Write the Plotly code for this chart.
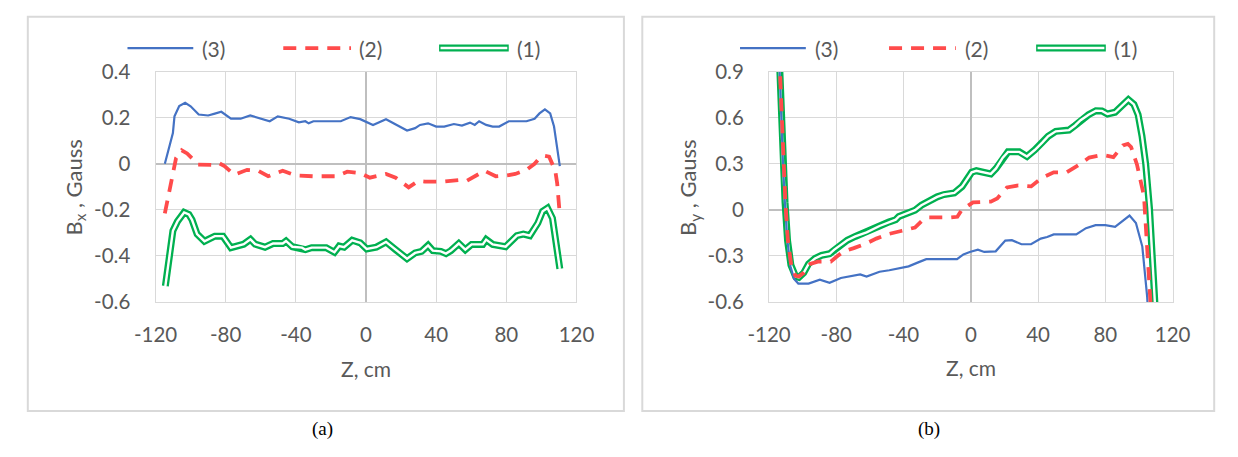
import plotly.graph_objects as go

# ---------------- data ----------------
# Panel (a): Bx
bx3_z = [-114.7, -110.1, -109.2, -106.5, -103.1, -100, -95.4, -90, -86.2, -82.5, -77, -71.5, -66, -60.4,
         -54.9, -50.3, -43.8, -38.3, -34.6, -32.7, -30, -20, -14.4, -8.8, -3.3, 4, 11.4, 23.4, 28, 30.8,
         35.4, 40, 44.6, 50.1, 54.7, 59.3, 62, 64.5, 68.5, 72.2, 75.9, 81.4, 91.5, 96.1, 98.9, 102, 105,
         107.2, 110.5]
bx3_v = [0, 0.134, 0.206, 0.251, 0.265, 0.25, 0.214, 0.21, 0.218, 0.226, 0.196, 0.196, 0.21, 0.196,
         0.185, 0.206, 0.196, 0.18, 0.185, 0.176, 0.185, 0.185, 0.185, 0.203, 0.194, 0.169, 0.194, 0.145,
         0.155, 0.169, 0.176, 0.162, 0.162, 0.173, 0.166, 0.179, 0.169, 0.185, 0.169, 0.162, 0.162, 0.185,
         0.185, 0.196, 0.219, 0.237, 0.219, 0.162, -0.01]

bx2_z = [-114.7, -111, -108.3, -105.1, -102, -98, -95.7, -87.9, -84, -80.7, -75.1, -67.8, -61.4, -55.8,
         -47.5, -40.2, -30, -17.1, -10.7, -3.3, 2.2, 11.4, 16.9, 24.3, 29.8, 33.5, 44.6, 53.8, 57.5, 67.6,
         74, 80.5, 85.1, 91.5, 96.1, 98.9, 101.5, 104.4, 107.9, 109, 110.5]
bx2_v = [-0.215, -0.085, 0.025, 0.059, 0.045, 0.015, -0.003, -0.005, 0.004, -0.01, -0.047, -0.026, -0.03,
         -0.054, -0.03, -0.05, -0.054, -0.054, -0.034, -0.04, -0.06, -0.044, -0.06, -0.102, -0.074, -0.077,
         -0.077, -0.07, -0.074, -0.03, -0.054, -0.05, -0.044, -0.026, 0, 0.025, 0.035, 0.031, -0.03,
         -0.085, -0.222]

bx1_z = [-114.4, -110.1, -107.5, -103.7, -101, -99.2, -96.3, -92.1, -86.2, -81.6, -77, -69.7, -65.9, -63.2,
         -57.6, -53, -47.5, -45.6, -42, -36.5, -34.6, -31, -22.7, -18, -15.3, -12.5, -7.9, -3.3, 0.4, 5.9,
         11.4, 16.9, 23.4, 28, 31.7, 35.4, 38.1, 42.7, 45.6, 48.4, 52.9, 56.6, 60.2, 66.6, 68.5, 72.2,
         79.6, 86, 89.7, 93.4, 98, 100.7, 103.5, 106.3, 108.6, 110.5]
bx1_v = [-0.531, -0.291, -0.25, -0.211, -0.22, -0.243, -0.305, -0.336, -0.314, -0.314, -0.364, -0.349,
         -0.328, -0.349, -0.362, -0.346, -0.346, -0.335, -0.36, -0.364, -0.373, -0.364, -0.364, -0.384,
         -0.357, -0.362, -0.332, -0.343, -0.37, -0.362, -0.339, -0.373, -0.412, -0.387, -0.38, -0.354,
         -0.377, -0.38, -0.39, -0.377, -0.346, -0.373, -0.35, -0.35, -0.329, -0.35, -0.36, -0.312, -0.305,
         -0.312, -0.257, -0.206, -0.192, -0.236, -0.346, -0.456]

# Panel (b): By
by3_z = [-115, -113.8, -112.8, -111.7, -110.6, -109.1, -107.2, -105.1, -102.6, -96.5, -89.8, -84, -77.3,
         -69.6, -65.8, -62, -54.3, -48.5, -42.8, -37, -31.3, -26.5, -12, -8.2, -4.4, -0.6, 4.2, 8, 14.8,
         20.5, 24.4, 30.1, 35.8, 41.6, 45.4, 49.3, 62.7, 68.5, 74.2, 80, 85.8, 94.4, 98.2, 102, 104.9,
         106.5]
by3_v = [1.3, 0.9, 0.55, 0.3, 0.05, -0.2, -0.37, -0.45, -0.48, -0.48, -0.455, -0.475, -0.444, -0.428,
         -0.42, -0.434, -0.403, -0.393, -0.383, -0.368, -0.342, -0.321, -0.321, -0.321, -0.29, -0.274,
         -0.259, -0.274, -0.27, -0.2, -0.197, -0.224, -0.224, -0.187, -0.177, -0.16, -0.16, -0.119, -0.099,
         -0.099, -0.111, -0.037, -0.085, -0.239, -0.568, -0.9]

by2_z = [-115, -113.6, -112.6, -111.5, -110.3, -108.8, -106.8, -104.3, -102.3, -99.4, -95.5, -91, -83.3,
         -79.3, -75.4, -69.6, -62, -56.2, -48.5, -40.9, -33.2, -29.4, -25.5, -12.1, -8, -5.4, -2.5, 1.3,
         11.9, 15.7, 21.5, 28.2, 35.9, 41.6, 49.3, 57, 64.6, 70.4, 78.1, 84.8, 90.5, 93.4, 95.3, 98.8, 103,
         104.9, 106.9, 108.5]
by2_v = [1.3, 0.9, 0.55, 0.3, 0.05, -0.2, -0.36, -0.43, -0.434, -0.41, -0.352, -0.337, -0.337, -0.3,
         -0.27, -0.249, -0.218, -0.187, -0.156, -0.136, -0.115, -0.074, -0.049, -0.049, -0.045, 0.0, 0.019,
         0.049, 0.054, 0.074, 0.146, 0.159, 0.153, 0.204, 0.245, 0.245, 0.296, 0.341, 0.358, 0.344, 0.42,
         0.43, 0.41, 0.296, 0.09, -0.239, -0.61, -0.9]

by1_z = [-115, -113.8, -112.8, -111.7, -110.5, -109, -107, -104.2, -102.3, -99.4, -96.5, -92.7, -88.8, -84,
         -81.2, -77.3, -73.5, -68.7, -62, -54.3, -48.5, -44.7, -42.8, -37, -33.2, -29.4, -25.5, -20, -16,
         -9.8, -5.2, -2, 0.5, 3.3, 7, 11.9, 15, 19, 22.1, 28.8, 33.4, 38, 42.6, 46, 50.5, 58.4, 62, 65.3,
         70, 74.4, 78, 81.3, 85.8, 90, 93.7, 97, 99.5, 101.8, 104, 106.3, 108, 109.7, 111]
by1_v = [1.3, 0.9, 0.55, 0.3, 0.05, -0.2, -0.36, -0.434, -0.44, -0.41, -0.352, -0.317, -0.296, -0.286,
         -0.259, -0.228, -0.198, -0.173, -0.146, -0.105, -0.078, -0.064, -0.043, -0.017, -0.002, 0.03,
         0.055, 0.085, 0.1, 0.111, 0.152, 0.2, 0.245, 0.255, 0.245, 0.235, 0.27, 0.34, 0.378, 0.378, 0.348,
         0.39, 0.44, 0.48, 0.512, 0.52, 0.55, 0.584, 0.62, 0.646, 0.645, 0.625, 0.636, 0.68, 0.718, 0.687,
         0.62, 0.481, 0.3, 0.008, -0.35, -0.61, -0.9]

x_tickvals = [-120, -80, -40, 0, 40, 80, 120]
x_ticktext = ["-120", "-80", "-40", "0", "40", "80", "120"]
ya_tickvals = [-0.6, -0.4, -0.2, 0, 0.2, 0.4]
ya_ticktext = ["-0.6", "-0.4", "-0.2", "0", "0.2", "0.4"]
yb_tickvals = [-0.6, -0.3, 0, 0.3, 0.6, 0.9]
yb_ticktext = ["-0.6", "-0.3", "0", "0.3", "0.6", "0.9"]
series_names = ["(3)", "(2)", "(1)"]

# ---------------- styling ----------------
W, H = 1238, 457
BLUE = "#4472C4"
RED = "#FF4B4B"
GREEN = "#00B050"
GRID = "#d9d9d9"
TXT = "#595959"
FONT = "Lato"
DASH = "13px,9px"
G_OUT, G_IN = 7, 2.4


def px(x):
    return x / W


def py(y):
    return 1 - y / H


fig = go.Figure()


def add_panel(xa, ya, z3, v3, z2, v2, z1, v1):
    fig.add_trace(go.Scatter(x=z1, y=v1, mode="lines", line=dict(color=GREEN, width=G_OUT),
                             xaxis=xa, yaxis=ya, showlegend=False, hoverinfo="skip"))
    fig.add_trace(go.Scatter(x=z1, y=v1, mode="lines", line=dict(color="white", width=G_IN),
                             xaxis=xa, yaxis=ya, showlegend=False, hoverinfo="skip"))
    fig.add_trace(go.Scatter(x=z3, y=v3, mode="lines", line=dict(color=BLUE, width=2.2),
                             xaxis=xa, yaxis=ya, showlegend=False, name=series_names[0]))
    fig.add_trace(go.Scatter(x=z2, y=v2, mode="lines", line=dict(color=RED, width=3.8, dash=DASH),
                             xaxis=xa, yaxis=ya, showlegend=False, name=series_names[1]))


add_panel("x", "y", bx3_z, bx3_v, bx2_z, bx2_v, bx1_z, bx1_v)
add_panel("x2", "y2", by3_z, by3_v, by2_z, by2_v, by1_z, by1_v)

ydom = [py(305), py(62)]
axis_common = dict(showgrid=True, gridcolor=GRID, gridwidth=1.3, zeroline=True,
                   zerolinecolor="#bfbfbf", zerolinewidth=1.6, showline=True, mirror=True,
                   linecolor=GRID, linewidth=1.3, tickfont=dict(family=FONT, size=20.5, color=TXT),
                   ticks="outside", tickcolor="rgba(0,0,0,0)", fixedrange=True)

fig.update_layout(
    width=W, height=H, margin=dict(l=0, r=0, t=0, b=0),
    paper_bgcolor="white", plot_bgcolor="white", showlegend=False,
    xaxis=dict(domain=[px(138), px(573)], range=[-120, 120], tickvals=x_tickvals,
               ticktext=x_ticktext, anchor="y", ticklen=14, **axis_common),
    yaxis=dict(domain=ydom, range=[-0.6, 0.4], tickvals=ya_tickvals, ticktext=ya_ticktext,
               anchor="x", ticklen=20, **axis_common),
    xaxis2=dict(domain=[px(772), px(1189)], range=[-120, 120], tickvals=x_tickvals,
                ticktext=x_ticktext, anchor="y2", ticklen=14, **axis_common),
    yaxis2=dict(domain=ydom, range=[-0.6, 0.9], tickvals=yb_tickvals, ticktext=yb_ticktext,
                anchor="x2", ticklen=20, **axis_common),
)

shapes = []
annotations = []

# outer frames
for x0, x1 in [(6, 622), (641, 1232)]:
    shapes.append(dict(type="rect", xref="paper", yref="paper", x0=px(x0), x1=px(x1),
                       y0=py(420), y1=py(4), line=dict(color=GRID, width=2), layer="below"))

# legends
legend_pos = [
    [(109, 177, 184), (270, 340, 346), (431, 503, 509)],
    [(742, 810, 817), (896, 965, 972), (1048, 1120, 1126)],
]
LY = 37
for panel in legend_pos:
    (b0, b1, bt), (r0, r1, rt), (g0, g1, gt) = panel
    shapes.append(dict(type="line", xref="paper", yref="paper", x0=px(b0), x1=px(b1),
                       y0=py(LY), y1=py(LY), line=dict(color=BLUE, width=2.2)))
    shapes.append(dict(type="line", xref="paper", yref="paper", x0=px(r0), x1=px(r1),
                       y0=py(LY), y1=py(LY), line=dict(color=RED, width=3.8, dash=DASH)))
    shapes.append(dict(type="line", xref="paper", yref="paper", x0=px(g0), x1=px(g1),
                       y0=py(LY), y1=py(LY), line=dict(color=GREEN, width=G_OUT)))
    shapes.append(dict(type="line", xref="paper", yref="paper", x0=px(g0 + 1.5), x1=px(g1 - 1.5),
                       y0=py(LY), y1=py(LY), line=dict(color="white", width=G_IN)))
    for xt, name in zip((bt, rt, gt), series_names):
        annotations.append(dict(x=px(xt), y=py(LY), xref="paper", yref="paper", text=name,
                                showarrow=False, xanchor="left", yanchor="middle",
                                font=dict(family=FONT, size=21, color=TXT)))

# axis titles
for xc, yc, txt, ang, sz in [
    (356, 375, "Z, cm", 0, 21),
    (981, 374, "Z, cm", 0, 21),
    (55, 184, "B<sub>x</sub> , Gauss", -90, 22),
    (690, 184, "B<sub>y</sub> , Gauss", -90, 22),
]:
    annotations.append(dict(x=px(xc), y=py(yc), xref="paper", yref="paper", text=txt,
                            showarrow=False, xanchor="center", yanchor="middle", textangle=ang,
                            font=dict(family=FONT, size=sz, color=TXT)))

# captions
for xc, txt in [(311, "(a)"), (937, "(b)")]:
    annotations.append(dict(x=px(xc), y=py(439), xref="paper", yref="paper", text=txt,
                            showarrow=False, xanchor="center", yanchor="middle",
                            font=dict(family="Liberation Serif", size=19, color="black")))

fig.update_layout(shapes=shapes, annotations=annotations)
fig.write_html("out.html")
